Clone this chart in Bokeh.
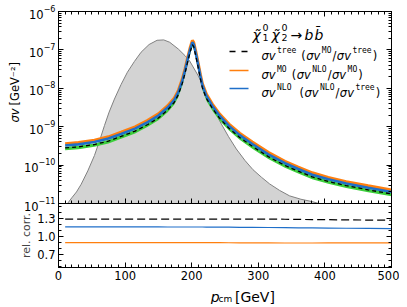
import numpy as np
from bokeh.plotting import figure
from bokeh.layouts import column, row
from bokeh.models import (LinearAxis, LogAxis, Range1d, FixedTicker,
                          CustomJSTickFormatter, PrintfTickFormatter)
from bokeh.core.properties import value
from bokeh.embed import file_html
from bokeh.resources import INLINE

# ---------------- data ----------------
p_cm = [10, 30, 54, 75, 94, 115, 134, 150, 164, 174, 180, 186, 190, 194, 198,
        201, 203, 206, 209, 213, 216, 222, 231, 242, 256, 272, 291, 315, 340,
        360, 381, 405, 432, 465, 500]
sigma_v_nlo = [3.24e-10, 3.47e-10, 3.98e-10, 4.90e-10, 6.46e-10, 8.91e-10, 1.32e-9,
               1.95e-9, 3.16e-9, 5.01e-9, 7.94e-9, 1.58e-8, 2.88e-8, 5.75e-8,
               1.07e-7, 1.58e-7, 1.41e-7, 8.32e-8, 4.68e-8, 2.09e-8, 1.20e-8,
               6.31e-9, 3.47e-9, 1.91e-9, 1.05e-9, 6.03e-10, 3.55e-10, 1.91e-10,
               1.12e-10, 7.94e-11, 5.62e-11, 4.27e-11, 3.31e-11, 2.57e-11, 2.00e-11]
ratio_mo_tree = [1.29] * 28 + [1.287, 1.284, 1.281, 1.279, 1.276, 1.273, 1.27]
ratio_nlo_tree = ([1.16] * 8 + [1.157] * 13 + [1.155] * 4 +
                  [1.152, 1.152, 1.149, 1.146, 1.144, 1.141, 1.139, 1.136, 1.133, 1.13])
ratio_nlo_mo = [0.895] * 24 + [0.894, 0.893, 0.892, 0.891, 0.890, 0.890, 0.890,
                               0.891, 0.891, 0.891, 0.892]
p_dist = [8, 13.5, 20, 27, 34, 44, 54, 62, 69, 76, 84, 94, 103.5, 114, 124, 136,
          148, 158, 167, 180, 190, 197, 210, 224, 242, 255, 267, 280, 292, 305,
          317, 332, 347, 364, 381, 395]
dist = [4e-12, 1e-11, 1.41e-11, 2.0e-11, 3.16e-11, 7.08e-11, 1.78e-10, 4.47e-10,
        1.07e-9, 2.40e-9, 5.25e-9, 1.26e-8, 2.63e-8, 5.01e-8, 8.71e-8, 1.38e-7,
        1.78e-7, 1.82e-7, 1.58e-7, 1.05e-7, 7.08e-8, 5.13e-8, 2.09e-8, 6.31e-9,
        1.41e-9, 5.62e-10, 2.63e-10, 1.32e-10, 7.59e-11, 4.79e-11, 3.24e-11,
        2.19e-11, 1.58e-11, 1.29e-11, 1.12e-11, 9.5e-12]

x_ticks = [0, 100, 200, 300, 400, 500]
y_ticks_top = [1e-11, 1e-10, 1e-9, 1e-8, 1e-7, 1e-6]
y_ticks_bot = [0.7, 1.0, 1.3]

nlo = np.array(sigma_v_nlo)
tree = nlo / np.array(ratio_nlo_tree)
mo = tree * np.array(ratio_mo_tree)

# ---------------- style ----------------
FONT = "DejaVu Sans"
MONO = "DejaVu Sans Mono"
C_OR = "#ff7f0e"
C_BL = "#1f6fc9"
C_GR = "#3ccf3c"
FW, FH1, FH2 = 333, 192, 64
LW, LOVER = 22, 8      # y-label strip width and its overlap with the panels
LB, RB = 44, 8
TB, BB1, BB2, H3 = 11, 9, 17, 20
X0, X1 = 0, 500
Y0, Y1 = 1e-11, 1e-6
B0, B1 = 0.48, 1.55
OFF = 1                # page offset of the layout


def style_axis(ax, labels=True):
    ax.major_tick_in = 5
    ax.major_tick_out = 0
    ax.minor_tick_in = 3
    ax.minor_tick_out = 0
    ax.axis_line_color = "black"
    ax.major_tick_line_color = "black"
    ax.minor_tick_line_color = "black"
    ax.major_label_text_font = FONT
    ax.major_label_text_font_size = "11.5px"
    ax.major_label_text_color = "black"
    ax.major_label_standoff = 3
    if not labels:
        ax.formatter = CustomJSTickFormatter(code="return ''")
        ax.major_label_text_font_size = "1px"
        ax.major_label_standoff = 0
        ax.axis_label = None


def mk_xt():
    return FixedTicker(ticks=x_ticks, minor_ticks=list(range(0, 501, 10)))


minor_log = [k * 10.0 ** e for e in range(-11, -6) for k in range(2, 10)]


def mk_yt1():
    return FixedTicker(ticks=y_ticks_top, minor_ticks=minor_log)


def mk_yt2():
    return FixedTicker(ticks=y_ticks_bot, minor_ticks=[0.5, 0.6, 0.8, 0.9, 1.1, 1.2, 1.4, 1.5])


def blank(fig):
    fig.grid.visible = False
    fig.outline_line_color = None
    fig.background_fill_color = None
    fig.border_fill_color = None


def txt(fig, x, y, text, size, style="normal", font=FONT, angle=0.0,
        align="left", baseline="alphabetic"):
    fig.text(x=[x], y=[y], text=[text], text_font=value(font),
             text_font_size=f"{size}px", text_font_style=style,
             text_color="black", text_baseline=baseline, text_align=align,
             angle=angle)


# ---------------- top panel ----------------
p1 = figure(x_range=Range1d(X0, X1), y_range=Range1d(Y0, Y1), y_axis_type="log",
            width=None, height=None, frame_width=FW, frame_height=FH1,
            min_border_left=LB, min_border_right=RB, min_border_top=TB,
            min_border_bottom=BB1, toolbar_location=None, output_backend="svg")
p1.styles = {"position": "relative", "z-index": "2"}
p1.grid.visible = False
p1.outline_line_color = "black"
p1.border_fill_color = None
p1.xaxis.ticker = mk_xt()
p1.yaxis.ticker = mk_yt1()
style_axis(p1.xaxis[0], labels=False)
style_axis(p1.yaxis[0], labels=True)
ax_r = LogAxis(ticker=mk_yt1())
style_axis(ax_r, labels=False)
p1.add_layout(ax_r, "right")
ax_t = LinearAxis(ticker=mk_xt())
style_axis(ax_t, labels=False)
p1.add_layout(ax_t, "above")

dist_floor = [1e-13] * len(p_dist)
p1.varea(x=p_dist, y1=dist_floor, y2=dist, fill_color="#d3d3d3")
p1.line(p_dist, dist, line_color="#808080", line_width=1)

p1.varea(x=p_cm, y1=tree * 0.87, y2=tree * 1.07, fill_color=C_GR)
p1.line(p_cm, mo, line_color=C_OR, line_width=3)
p1.line(p_cm, nlo, line_color=C_BL, line_width=2.6)
p1.line(p_cm, tree, line_color="black", line_width=1.3, line_dash="4 3")

FL = OFF + LW - LOVER + LB     # page x of the frame's left edge
FT = OFF + TB                  # page y of the frame's top edge


def tx(px):
    return float(X0 + (px - FL) / FW * (X1 - X0))


def ty(py):
    return float(10 ** (np.log10(Y1) - (py - FT) / FH1 * (np.log10(Y1) - np.log10(Y0))))


# legend title
txt(p1, tx(253), ty(35), "χ̃", 14, "italic")
txt(p1, tx(263), ty(38), "1", 9.5)
txt(p1, tx(263), ty(28), "0", 9.5)
txt(p1, tx(272), ty(35), "χ̃", 14, "italic")
txt(p1, tx(282), ty(38), "2", 9.5)
txt(p1, tx(282), ty(28), "0", 9.5)
txt(p1, tx(291), ty(35), "→", 14)
txt(p1, tx(305), ty(35), "b", 14, "italic")
txt(p1, tx(315), ty(35), "b̄", 14, "italic")

# legend rows
WID = {"σ": 0.63, "v": 0.592, "(": 0.39, ")": 0.39, "/": 0.337}
FM, FS = 11.5, 8


def legend_row(py, segs):
    x = 262.0
    for s, kind in segs:
        if kind == "gap":
            x += float(s)
        elif kind == "sup":
            txt(p1, tx(x + 0.5), ty(py - 1), s, FS, "normal", MONO)
            x += 0.602 * FS * len(s) + 1.5
        else:
            txt(p1, tx(x), ty(py + 4), s, FM, "italic" if kind == "it" else "normal")
            x += sum(WID.get(c, 0.6) for c in s) * FM + (1.0 if kind == "it" else 0.5)


rows = [
    (52, "black", "6 6", [("σv", "it"), ("tree", "sup"), (4, "gap"), ("(", "n"), ("σv", "it"),
                         ("MO", "sup"), ("/", "n"), ("σv", "it"), ("tree", "sup"), (")", "n")]),
    (71, C_OR, "solid", [("σv", "it"), ("MO", "sup"), (4, "gap"), ("(", "n"), ("σv", "it"),
                        ("NLO", "sup"), ("/", "n"), ("σv", "it"), ("MO", "sup"), (")", "n")]),
    (89, C_BL, "solid", [("σv", "it"), ("NLO", "sup"), (7, "gap"), ("(", "n"), ("σv", "it"),
                        ("NLO", "sup"), ("/", "n"), ("σv", "it"), ("tree", "sup"), (")", "n")]),
]
for py, col, dash, segs in rows:
    p1.line([tx(230), tx(249)], [ty(py), ty(py)], line_color=col,
            line_width=1.3 if col == "black" else 1.5, line_dash=dash)
    legend_row(py, segs)

# ---------------- bottom panel ----------------
p2 = figure(x_range=p1.x_range, y_range=Range1d(B0, B1),
            width=None, height=None, frame_width=FW, frame_height=FH2,
            min_border_left=LB, min_border_right=RB, min_border_top=0,
            min_border_bottom=BB2, toolbar_location=None, output_backend="svg",
            margin=(-BB1, 0, 0, 0))
p2.styles = {"position": "relative", "z-index": "1"}
p2.grid.visible = False
p2.outline_line_color = "black"
p2.border_fill_color = None
p2.xaxis.ticker = mk_xt()
p2.yaxis.ticker = mk_yt2()
style_axis(p2.xaxis[0], labels=True)
style_axis(p2.yaxis[0], labels=True)
p2.yaxis.formatter = PrintfTickFormatter(format="%.1f")
p2.yaxis.axis_label = "rel. corr."
p2.yaxis.axis_label_text_font = FONT
p2.yaxis.axis_label_text_font_size = "11px"
p2.yaxis.axis_label_text_font_style = "normal"
p2.yaxis.axis_label_standoff = 1
ax_r2 = LinearAxis(ticker=mk_yt2())
style_axis(ax_r2, labels=False)
p2.add_layout(ax_r2, "right")

p2.line(p_cm, ratio_mo_tree, line_color="black", line_width=1.2, line_dash="8 4")
p2.line(p_cm, ratio_nlo_tree, line_color=C_BL, line_width=1.2)
p2.line(p_cm, ratio_nlo_mo, line_color=C_OR, line_width=1.2)

# ---------------- x label strip ----------------
W_MAIN = LB + FW + RB
X3 = OFF + LW - LOVER
p3 = figure(x_range=Range1d(X3, X3 + W_MAIN), y_range=Range1d(H3, 0),
            width=W_MAIN, height=H3, min_border=0, x_axis_location=None,
            y_axis_location=None, toolbar_location=None, output_backend="svg")
blank(p3)
txt(p3, 191, 12.5, "p", 14, "italic")
txt(p3, 200, 14.5, "cm", 9)
txt(p3, 219, 12.5, "[GeV]", 14)

# ---------------- y label strip ----------------
H_ALL = TB + FH1 + FH2 + BB2 + H3
pl = figure(x_range=Range1d(OFF, OFF + LW), y_range=Range1d(OFF + H_ALL, OFF),
            width=LW, height=H_ALL, min_border=0, x_axis_location=None,
            y_axis_location=None, toolbar_location=None, output_backend="svg",
            margin=(0, -LOVER, 0, 0))
blank(pl)
txt(pl, 15, 109, "σv", 11.5, "italic", angle=float(np.pi / 2), align="right", baseline="middle")
txt(pl, 15, 106, "[GeV⁻²]", 11.5, angle=float(np.pi / 2), align="left", baseline="middle")

layout = row(pl, column(p1, p2, p3, spacing=0), spacing=0)
open("out.html", "w").write(file_html(layout, INLINE))
